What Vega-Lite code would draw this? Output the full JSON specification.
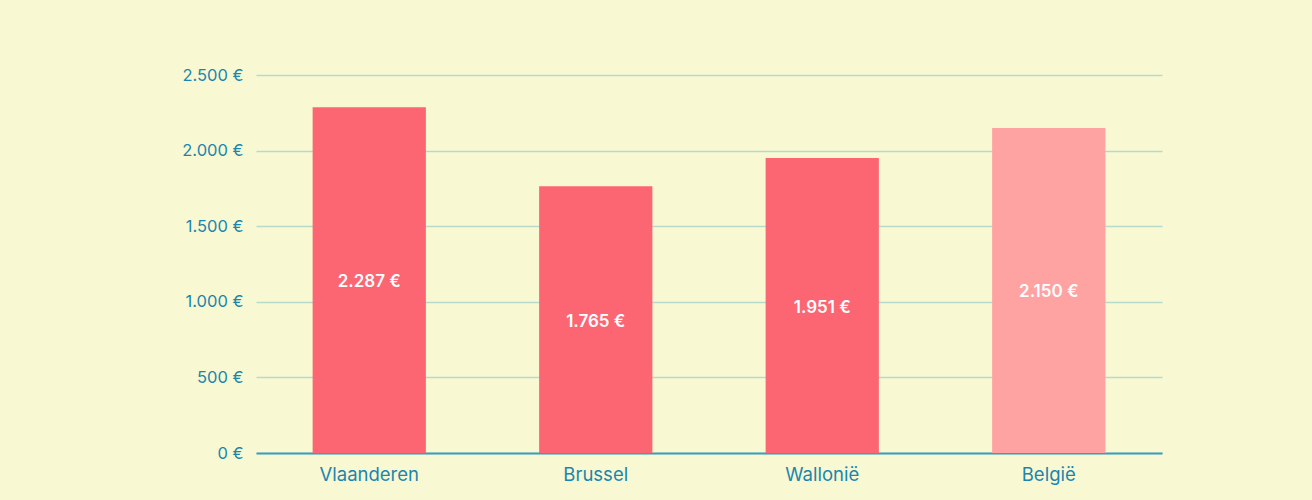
{
  "$schema": "https://vega.github.io/schema/vega-lite/v6.json",
  "width": 906,
  "height": 378,
  "autosize": {"type": "none"},
  "padding": {"left": 256, "top": 75, "right": 150, "bottom": 47},
  "background": "#F8F9D3",
  "config": {
    "view": {"stroke": null},
    "font": "Inter",
    "locale": {"number": {"decimal": ",", "thousands": ".", "grouping": [3], "currency": ["", "\u00a0€"]}}
  },
  "data": {
    "values": [
      {"region": "Vlaanderen", "value": 2287},
      {"region": "Brussel", "value": 1765},
      {"region": "Wallonië", "value": 1951},
      {"region": "België", "value": 2150}
    ]
  },
  "encoding": {
    "x": {
      "field": "region", "type": "nominal", "sort": null,
      "scale": {"paddingInner": 0.5, "paddingOuter": 0.25},
      "axis": {
        "title": null, "labelAngle": 0, "labelFont": "Inter", "labelFontSize": 18.5,
        "labelColor": "#1A86AE", "labelPadding": 12, "ticks": false,
        "domainColor": "#3A9FBE", "domainWidth": 2, "grid": false
      }
    }
  },
  "layer": [
    {
      "mark": {"type": "bar"},
      "encoding": {
        "y": {
          "field": "value", "type": "quantitative",
          "scale": {"domain": [0, 2500], "nice": false},
          "axis": {
            "title": null, "values": [0, 500, 1000, 1500, 2000, 2500],
            "format": "$,.0f", "labelFont": "Inter", "labelFontSize": 16.5,
            "labelColor": "#1A86AE", "labelPadding": 13, "ticks": false,
            "domain": false, "gridColor": "#B6D9C9", "gridWidth": 1.5
          }
        },
        "color": {
          "field": "region", "type": "nominal", "legend": null,
          "scale": {"domain": ["Vlaanderen", "Brussel", "Wallonië", "België"], "range": ["#FC6673", "#FC6673", "#FC6673", "#FFA2A2"]}
        }
      }
    },
    {
      "transform": [{"calculate": "datum.value / 2", "as": "mid"}],
      "mark": {"type": "text", "color": "white", "font": "Inter", "fontSize": 17, "fontWeight": 600, "baseline": "middle", "dy": 2},
      "encoding": {
        "y": {"field": "mid", "type": "quantitative"},
        "text": {"field": "value", "type": "quantitative", "format": "$,.0f"}
      }
    }
  ]
}
